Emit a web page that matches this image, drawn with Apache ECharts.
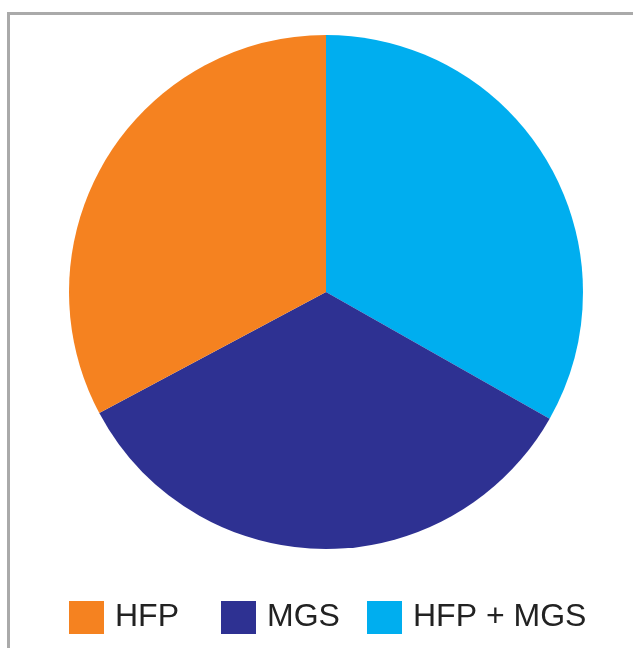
<!DOCTYPE html>
<html>
<head>
<meta charset="utf-8">
<script src="https://cdn.jsdelivr.net/npm/echarts@6/dist/echarts.min.js"></script>
<style>
  html, body { margin: 0; padding: 0; background: #fff; }
  #chart { width: 633px; height: 648px; }
</style>
</head>
<body>
<div id="chart"></div>
<script>
// data, in clockwise order from 12 o'clock
var names = ['HFP + MGS', 'MGS', 'HFP'];
var values = [33.2, 34.0, 32.8];
var colors = ['#00AEEF', '#2E3192', '#F58220'];
// legend order as shown under the pie
var legendNames = ['HFP', 'MGS', 'HFP + MGS'];
var legendLeft = [69, 221, 367];

var chart = echarts.init(document.getElementById('chart'));

var pieData = names.map(function (n, i) {
    return { name: n, value: values[i], itemStyle: { color: colors[i] } };
});

var legends = legendNames.map(function (n, i) {
    return {
        data: [n],
        left: legendLeft[i],
        top: 601,
        padding: 0,
        icon: 'rect',
        itemWidth: 35,
        itemHeight: 33,
        selectedMode: false,
        textStyle: {
            fontFamily: 'Liberation Sans, Arial, sans-serif',
            fontSize: 32,
            color: '#222',
            padding: [0, 0, 0, 6]
        }
    };
});

chart.setOption({
    animation: false,
    backgroundColor: '#fff',
    graphic: [{
        type: 'rect',
        shape: { x: 8.5, y: 13.5, width: 700, height: 700 },
        style: { fill: 'none', stroke: '#aaaaaa', lineWidth: 3 },
        silent: true
    }],
    legend: legends,
    series: [{
        type: 'pie',
        center: [326, 292],
        radius: 257,
        startAngle: 90,
        clockwise: true,
        label: { show: false },
        labelLine: { show: false },
        emphasis: { disabled: true },
        itemStyle: { borderWidth: 0 },
        data: pieData
    }]
});
</script>
</body>
</html>
